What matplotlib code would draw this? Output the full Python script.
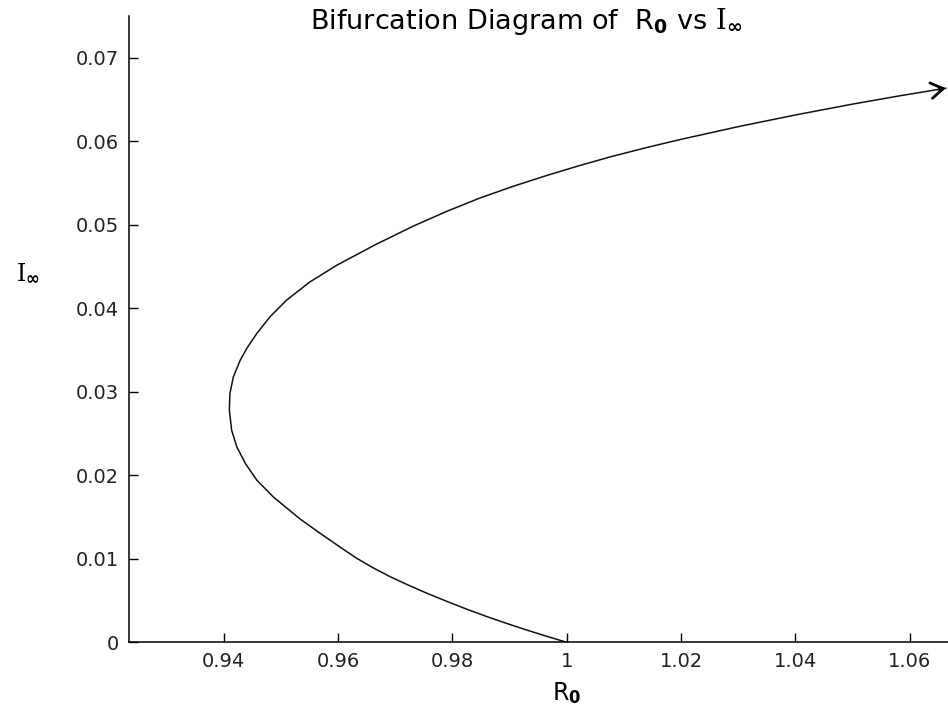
import matplotlib
matplotlib.use('Agg')
import matplotlib.pyplot as plt

# values (R0, I_inf along the curve)
r0_vals = [1.0, 0.9965, 0.9930, 0.9895, 0.9860, 0.9825, 0.9790, 0.9755, 0.9720,
           0.9690, 0.9662, 0.9633, 0.9609, 0.9569, 0.9534, 0.9487, 0.9458, 0.9438,
           0.9423, 0.9414, 0.9410, 0.9411, 0.9417, 0.9429, 0.9441, 0.9458, 0.9481,
           0.9510, 0.9551, 0.9598, 0.9665, 0.9732, 0.9790, 0.9848, 0.9907, 0.9965,
           1.0024, 1.0081, 1.0140, 1.0198, 1.0300, 1.0400, 1.0500, 1.0583, 1.0663]
i_vals = [0.0, 0.00072, 0.00147, 0.00226, 0.00309, 0.00397, 0.00491, 0.00589, 0.00694,
          0.00790, 0.00890, 0.01005, 0.01115, 0.01304, 0.01475, 0.01740, 0.01942, 0.02142,
          0.02341, 0.02540, 0.02780, 0.02980, 0.03178, 0.03378, 0.03525, 0.03698, 0.03897,
          0.04097, 0.04316, 0.04516, 0.04760, 0.04985, 0.05160, 0.05320, 0.05462, 0.05590,
          0.05712, 0.05822, 0.05925, 0.06020, 0.06175, 0.06315, 0.06445, 0.06545, 0.06635]

xticks = [0.94, 0.96, 0.98, 1.0, 1.02, 1.04, 1.06]
xtick_labels = ['0.94', '0.96', '0.98', '1', '1.02', '1.04', '1.06']
yticks = [0, 0.01, 0.02, 0.03, 0.04, 0.05, 0.06, 0.07]
ytick_labels = ['0', '0.01', '0.02', '0.03', '0.04', '0.05', '0.06', '0.07']

plt.rcParams['mathtext.fontset'] = 'custom'
plt.rcParams['mathtext.rm'] = 'DejaVu Serif'
plt.rcParams['mathtext.bf'] = 'DejaVu Sans:bold'
plt.rcParams['mathtext.it'] = 'DejaVu Serif:italic:bold'

W, H = 948, 721
fig = plt.figure(figsize=(W / 100, H / 100), dpi=100)
# axes: left edge 128.7 px, bottom at 642.3 px, top at 16 px, right runs past the crop
ax = fig.add_axes([128.7 / W, (H - 642.3) / H, (1003 - 128.7) / W, (642.3 - 16) / H])

ax.plot(r0_vals, i_vals, color='#111111', lw=1.1)
# open arrow head at the end of the curve
tip = (r0_vals[-1], i_vals[-1])
back = (r0_vals[-1] - 0.15 * (r0_vals[-1] - r0_vals[-2]),
        i_vals[-1] - 0.15 * (i_vals[-1] - i_vals[-2]))
ax.annotate('', xy=tip, xytext=back,
            arrowprops=dict(arrowstyle='->,head_length=0.55,head_width=0.35',
                            color='black', lw=2.0, mutation_scale=16,
                            shrinkA=0, shrinkB=0))

ax.set_xlim(0.9234, 1.0763)
ax.set_ylim(0, 0.075)
ax.set_xticks(xticks)
ax.set_xticklabels(xtick_labels, family='DejaVu Sans', fontsize=14)
ax.set_yticks(yticks)
ax.set_yticklabels(ytick_labels, family='DejaVu Sans', fontsize=14)
ax.tick_params(direction='in', length=6.5, width=1.0, pad=7, colors='black')
for lab in ax.get_xticklabels() + ax.get_yticklabels():
    lab.set_color('#222222')

ax.spines['top'].set_visible(False)
ax.spines['right'].set_visible(False)
ax.spines['left'].set_linewidth(1.1)
ax.spines['bottom'].set_linewidth(1.1)

fig.text(526 / W, (H - 29) / H,
         r'Bifurcation Diagram of  R$_\mathbf{0}$ vs $\mathrm{I}_{\mathbf{\infty}}$',
         ha='center', va='baseline', fontsize=19.5, family='DejaVu Sans')
fig.text(566.7 / W, (H - 700) / H, r'R$_\mathbf{0}$', ha='center', va='baseline',
         fontsize=17, family='DejaVu Sans')
fig.text(28 / W, (H - 280) / H, r'$\mathrm{I}_{\mathbf{\infty}}$', ha='center',
         va='baseline', fontsize=17)

fig.savefig('out.png', dpi=100, facecolor='white')
